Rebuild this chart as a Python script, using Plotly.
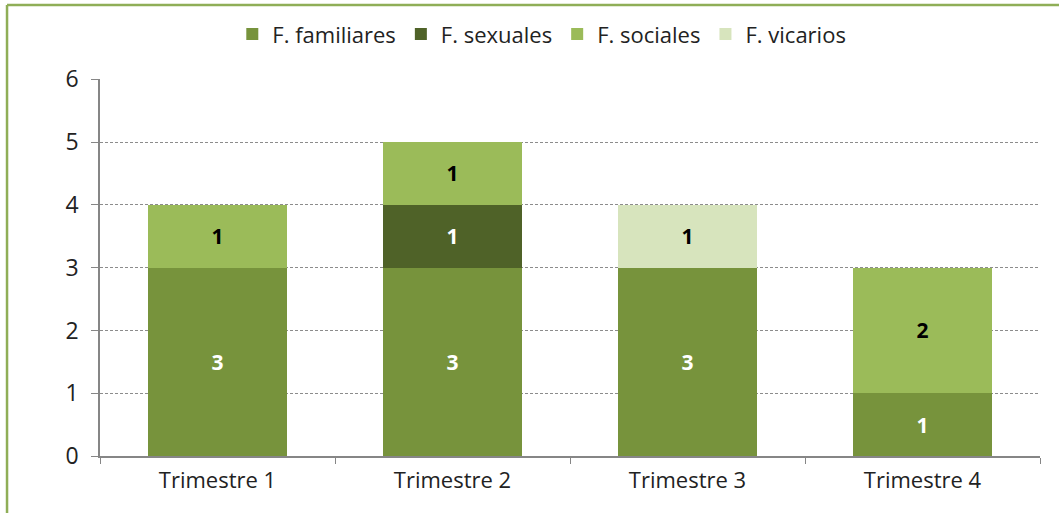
import plotly.graph_objects as go

categories = ["Trimestre 1", "Trimestre 2", "Trimestre 3", "Trimestre 4"]
familiares = [3, 3, 3, 1]
sexuales = [None, 1, None, None]
sociales = [1, 1, None, 2]
vicarios = [None, None, 1, None]

FONT = "Open Sans"

series = [
    ("F. familiares", familiares, "#77933C", "white"),
    ("F. sexuales", sexuales, "#4F6228", "white"),
    ("F. sociales", sociales, "#9BBB59", "black"),
    ("F. vicarios", vicarios, "#D7E4BD", "black"),
]

fig = go.Figure()
for name, vals, color, tcolor in series:
    fig.add_trace(go.Bar(
        x=categories, y=vals, name=name,
        marker=dict(color=color, line=dict(width=0)),
        text=[None if v is None else str(v) for v in vals],
        texttemplate="<b>%{text}</b>",
        textposition="inside", insidetextanchor="middle",
        textfont=dict(color=tcolor, size=21, family=FONT),
        textangle=0,
    ))

fig.update_layout(
    barmode="stack",
    bargap=0.41,
    width=1059, height=513,
    margin=dict(l=100, r=19, t=79, b=57, autoexpand=False),
    paper_bgcolor="white", plot_bgcolor="white",
    font=dict(family=FONT, size=22, color="#222222"),
    legend=dict(orientation="h", x=0.47, xanchor="center", y=1.119, yanchor="middle",
                font=dict(size=22), traceorder="normal", itemwidth=30,
                bgcolor="rgba(0,0,0,0)"),
    uniformtext=dict(mode=False),
    xaxis=dict(showline=True, linecolor="#868686", linewidth=1.5, ticks="outside",
               tickson="boundaries", ticklen=6, tickcolor="#868686",
               tickfont=dict(size=22), ticklabelstandoff=4),
    yaxis=dict(range=[0, 6.005], tickvals=[0, 1, 2, 3, 4, 5, 6], showline=True,
               linecolor="#868686", linewidth=1.5,
               ticks="outside", ticklen=7, tickcolor="#868686",
               showgrid=True, gridcolor="#8c8c8c", griddash="3px,2px", gridwidth=1,
               tickfont=dict(size=23), zeroline=False, ticklabelstandoff=8),
    shapes=[
        dict(type="line", xref="paper", yref="paper", x0=-0.0989, x1=1.03, y0=1.196, y1=1.196,
             line=dict(color="#8FAE57", width=2.5)),
        dict(type="line", xref="paper", yref="paper", x0=-0.0989, x1=-0.0989, y0=1.196, y1=-0.2,
             line=dict(color="#8FAE57", width=2.5)),
    ],
)

fig.write_html("out.html", config={"displayModeBar": False},
               post_script="document.body.style.margin='0px';document.body.style.padding='0px';")
